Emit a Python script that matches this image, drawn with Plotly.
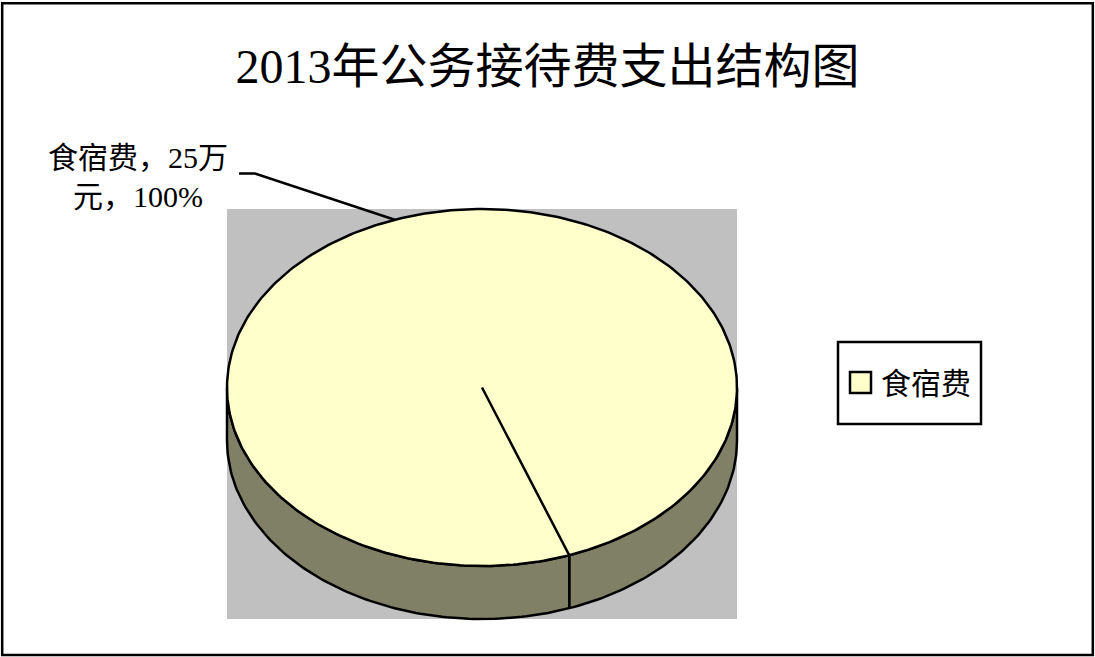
import numpy as np
import plotly.graph_objects as go

# ---- data ----
categories = ["食宿费"]
values = [25]            # 万元
unit = "万元"
title_text = "2013年公务接待费支出结构图"

# ---- layout constants (pixel space) ----
W, H = 1095, 657
CX, CY = 482, 387.5
RX, RY = 255, 178.5
DEPTH = 53
START_DEG = -70          # parametric angle of first slice boundary (y up)
TOP = "#FFFFCC"
SIDE = "#808066"
PLOT_BG = "#C0C0C0"
FONT = "Liberation Serif, Noto Sans CJK SC"
LW = 2.5


def pt(t_deg, dz=0.0):
    t = np.radians(t_deg)
    return CX + RX * np.cos(t), CY - RY * np.sin(t) + dz


total = float(sum(values))
fracs = [v / total for v in values]

fig = go.Figure()

# side (front half of the cylinder wall)
ts = np.linspace(180, 360, 181)
ux, uy = pt(ts)
lx, ly = pt(ts[::-1], DEPTH)
fig.add_trace(go.Scatter(
    x=np.concatenate([ux, lx, ux[:1]]), y=np.concatenate([uy, ly, uy[:1]]),
    mode="lines", fill="toself", fillcolor=SIDE,
    line=dict(color="black", width=LW), hoverinfo="skip", showlegend=False))

# slice boundaries on the visible side
ang = START_DEG
mids = []
for f in fracs:
    a0, a1 = ang, ang - f * 360.0      # clockwise
    mids.append((a0 + a1) / 2.0)
    for b in (a0, a1):
        bm = b % 360
        if 180 < bm < 360:
            x0, y0 = pt(bm)
            x1, y1 = pt(bm, DEPTH)
            fig.add_trace(go.Scatter(x=[x0, x1], y=[y0, y1], mode="lines",
                                     line=dict(color="black", width=LW),
                                     hoverinfo="skip", showlegend=False))
    ang = a1

# top faces
ang = START_DEG
for f in fracs:
    a0, a1 = ang, ang - f * 360.0
    tt = np.linspace(a0, a1, max(int(abs(a1 - a0)) + 1, 2))
    ax_, ay_ = pt(tt)
    fig.add_trace(go.Scatter(
        x=np.concatenate([[CX], ax_, [CX]]), y=np.concatenate([[CY], ay_, [CY]]),
        mode="lines", fill="toself", fillcolor=TOP,
        line=dict(color="black", width=LW), hoverinfo="skip", showlegend=False))
    ang = a1

# data label with leader line
mx, my = pt(mids[0])
ELBOW_X0, ELBOW_X1, ELBOW_Y = 239, 255, 173.5
fig.add_trace(go.Scatter(x=[ELBOW_X0, ELBOW_X1, mx], y=[ELBOW_Y, ELBOW_Y, my],
                         mode="lines", line=dict(color="black", width=LW),
                         hoverinfo="skip", showlegend=False))
pct = fracs[0] * 100
label = f"{categories[0]}，{values[0]}{unit[0]}<br>{unit[1:]}，{pct:.0f}%"

shapes = [
    dict(type="rect", xref="x", yref="y", x0=CX - RX, x1=CX + RX,
         y0=CY - RY, y1=CY + RY + DEPTH, fillcolor=PLOT_BG, line=dict(width=0),
         layer="below"),
    dict(type="rect", xref="paper", yref="paper", x0=0.002, x1=0.998,
         y0=0.003, y1=0.995, line=dict(color="black", width=2.5)),
    # legend box
    dict(type="rect", xref="x", yref="y", x0=838, x1=981, y0=342, y1=424,
         line=dict(color="black", width=2.5), fillcolor="white"),
    dict(type="rect", xref="x", yref="y", x0=850, x1=871, y0=372, y1=393,
         line=dict(color="black", width=2.5), fillcolor=TOP),
]

annotations = [
    dict(x=138, y=177, xref="x", yref="y", text=label, showarrow=False,
         align="center", xanchor="center", yanchor="middle",
         font=dict(family=FONT, size=30, color="black")),
    dict(x=879, y=383, xref="x", yref="y", text=categories[0], showarrow=False,
         xanchor="left", yanchor="middle",
         font=dict(family=FONT, size=30, color="black")),
]

fig.update_layout(
    width=W, height=H, margin=dict(l=0, r=0, t=0, b=0),
    paper_bgcolor="white", plot_bgcolor="white",
    title=dict(text=title_text, x=0.5, xanchor="center", y=1 - 66 / H,
               yanchor="middle", font=dict(family=FONT, size=48, color="black")),
    xaxis=dict(range=[0, W], visible=False, domain=[0, 1], fixedrange=True),
    yaxis=dict(range=[H, 0], visible=False, domain=[0, 1], fixedrange=True),
    shapes=shapes, annotations=annotations, showlegend=False,
)

fig.write_html("out.html")
